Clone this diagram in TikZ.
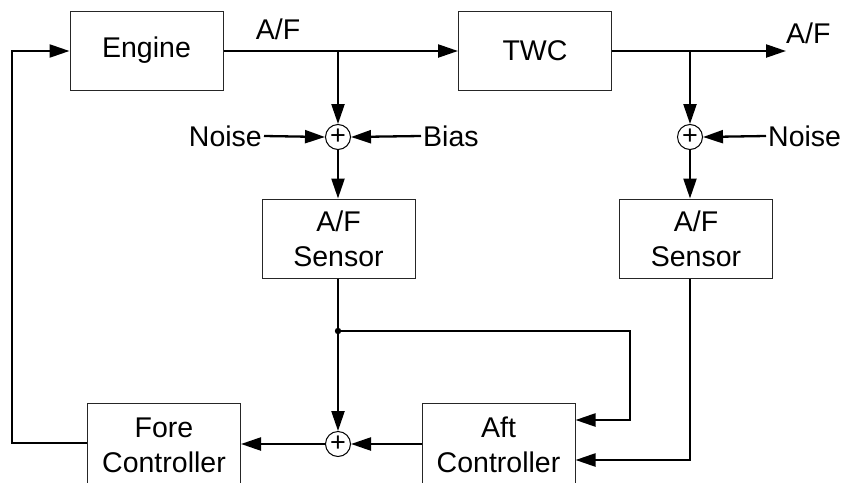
\documentclass[tikz,border=0pt]{standalone}
\usepackage{fontspec}
\setmainfont{Liberation Sans}
\usetikzlibrary{arrows.meta}
\begin{document}
\begin{tikzpicture}[x=1pt,y=-1pt,
  every node/.style={font=\fontsize{28.5}{35}\selectfont},
  blk/.style={draw=black!85,line width=1pt,minimum width=153pt,minimum height=79pt,inner sep=0pt,align=center},
  sumc/.style={draw=black,line width=1pt,circle,minimum size=25pt,inner sep=0pt,font=\fontsize{27}{27}\selectfont},
  lbl/.style={inner sep=2pt},
  conn/.style={line width=2.3pt},
  arr/.style={conn,-{Triangle[length=20pt,width=13pt]}}]
\clip (0,0) rectangle (843,482);
\fill[white] (0,0) rectangle (843,482);
% blocks
\node[blk] (engine) at (146.5,50.5) {Engine};
\node[blk] (twc) at (535,50.5) {TWC};
\node[blk] (sen1) at (338.5,238.5) {A/F\\Sensor};
\node[blk] (sen2) at (696,238.5) {A/F\\Sensor};
\node[blk,minimum height=84pt] (fore) at (164,445) {Fore\\Controller};
\node[blk,minimum height=84pt] (aft) at (498.5,445) {Aft\\Controller};
% summing junctions
\node[sumc] (s1) at (338,137) {\raisebox{-1.5pt}{+}};
\node[sumc] (s2) at (690,137) {\raisebox{-1.5pt}{+}};
\node[sumc] (s3) at (338,444) {\raisebox{-1.5pt}{+}};
% labels
\node[lbl] (af1) at (278,29) {A/F};
\node[lbl,anchor=west] (af2) at (784,33) {A/F};
\node[lbl,anchor=east] (noise1) at (264,136) {Noise};
\node[lbl,anchor=west] (bias) at (421,136) {Bias};
\node[lbl,anchor=west] (noise2) at (766,136) {Noise};
% coordinates
\coordinate (j1) at (338,51);
\coordinate (j2) at (690,51);
\coordinate (out) at (786,51);
\coordinate (dot) at (338,331);
\coordinate (c1) at (630,331);
\coordinate (c2) at (630,420);
\coordinate (c3) at (690,460);
\coordinate (fl) at (12,443);
\coordinate (tl) at (12,51);
% connectors
\draw[arr] (engine.east |- j1) -- (twc.west |- j1);
\draw[arr] (j1) -- (s1.north);
\draw[arr] (noise1.east) -- (s1.west);
\draw[arr] (bias.west) -- (s1.east);
\draw[arr] (s1.south) -- (sen1.north -| s1);
\draw[arr] (twc.east |- out) -- (out);
\draw[arr] (j2) -- (s2.north);
\draw[arr] (noise2.west) -- (s2.east);
\draw[arr] (s2.south) -- (s2.south |- sen2.north);
\draw[arr] (sen1.south -| dot) -- (s3.north);
\draw[arr] (dot) -- (c1) -- (c2) -- (aft.east |- c2);
\draw[arr] (c3 |- sen2.south) -- (c3) -- (aft.east |- c3);
\draw[arr] (aft.west |- s3) -- (s3.east);
\draw[arr] (s3.west) -- (fore.east |- s3);
\draw[arr] (fore.west |- fl) -- (fl) -- (tl) -- (engine.west |- tl);
\fill (dot) circle (3.2pt);
\end{tikzpicture}
\end{document}
